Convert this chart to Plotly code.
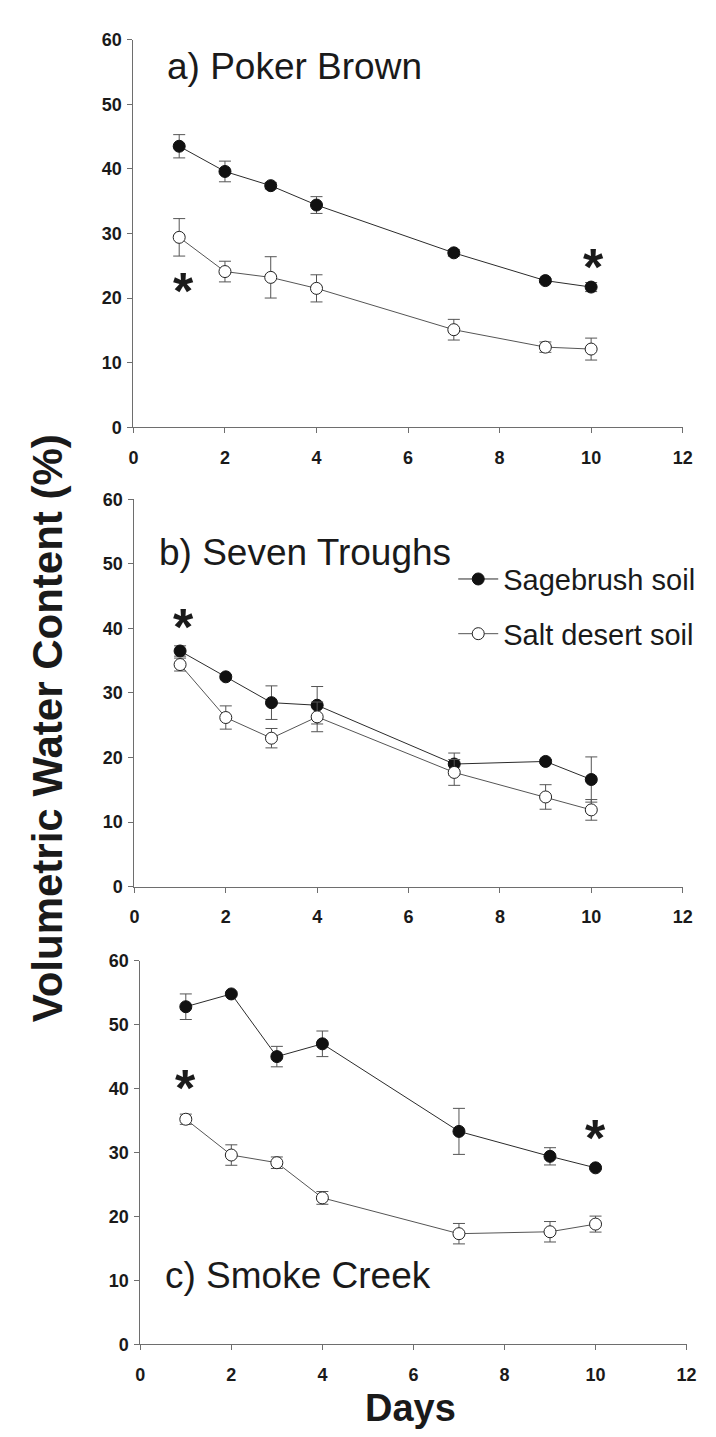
import plotly.graph_objects as go

days = [1, 2, 3, 4, 7, 9, 10]

a_sage = [43.5, 39.6, 37.4, 34.4, 27.0, 22.7, 21.7]
a_sage_err = [1.8, 1.6, 0.5, 1.3, 0.5, 0.3, 0.7]
a_salt = [29.4, 24.1, 23.2, 21.5, 15.1, 12.4, 12.1]
a_salt_err = [2.9, 1.6, 3.2, 2.1, 1.6, 0.8, 1.7]

b_sage = [36.5, 32.5, 28.5, 28.1, 19.0, 19.4, 16.6]
b_sage_err = [0.8, 0.3, 2.6, 2.9, 1.7, 0.3, 3.5]
b_salt = [34.4, 26.2, 23.0, 26.3, 17.7, 13.9, 11.9]
b_salt_err = [1.0, 1.8, 1.5, 2.3, 2.0, 1.9, 1.6]

c_sage = [52.8, 54.8, 45.0, 47.0, 33.3, 29.4, 27.6]
c_sage_err = [2.0, 0.3, 1.6, 2.0, 3.6, 1.35, 0.2]
c_salt = [35.2, 29.6, 28.4, 22.9, 17.3, 17.6, 18.8]
c_salt_err = [0.8, 1.6, 0.9, 1.0, 1.6, 1.6, 1.25]

panel_titles = ["a) Poker Brown", "b) Seven Troughs", "c) Smoke Creek"]
title_pos = [(0.68, 55.9), (0.49, 51.8), (0.50, 10.8)]
asterisks = [
    [(1.1, 22.6), (10.05, 26.4)],
    [(1.07, 41.8)],
    [(1.0, 41.6), (10.0, 33.9)],
]
series_names = ["Sagebrush soil", "Salt desert soil"]
x_ticks = [0, 2, 4, 6, 8, 10, 12]
y_ticks = [0, 10, 20, 30, 40, 50, 60]

W, H = 716, 1437
# pixel boxes (left, right, top, bottom)
boxes = [(123, 684, 22, 415), (124, 684, 488, 881), (130, 688, 956, 1345)]

TXT = "#1a1a1a"
AX = "#6e6e6e"
FONT = "Liberation Sans, Arial, sans-serif"

fig = go.Figure()
panels = [
    (a_sage, a_sage_err, a_salt, a_salt_err),
    (b_sage, b_sage_err, b_salt, b_salt_err),
    (c_sage, c_sage_err, c_salt, c_salt_err),
]

for i, (s, se, t, te) in enumerate(panels):
    xa = "x" if i == 0 else f"x{i+1}"
    ya = "y" if i == 0 else f"y{i+1}"
    fig.add_trace(go.Scatter(
        x=days, y=s, xaxis=xa, yaxis=ya, mode="lines+markers",
        name=series_names[0], legendgroup="g1", showlegend=(i == 0),
        line=dict(color="#2b2b2b", width=1),
        marker=dict(symbol="circle", size=12, color="#111111",
                    line=dict(color="#111111", width=1)),
        error_y=dict(type="data", array=se, visible=True,
                     color="#555555", thickness=1, width=6),
    ))
    fig.add_trace(go.Scatter(
        x=days, y=t, xaxis=xa, yaxis=ya, mode="lines+markers",
        name=series_names[1], legendgroup="g2", showlegend=(i == 0),
        line=dict(color="#555555", width=1),
        marker=dict(symbol="circle", size=12, color="white",
                    line=dict(color="#222222", width=1)),
        error_y=dict(type="data", array=te, visible=True,
                     color="#555555", thickness=1, width=6),
    ))

layout = dict(
    width=W, height=H, margin=dict(l=0, r=0, t=0, b=0),
    paper_bgcolor="white", plot_bgcolor="white",
    font=dict(family=FONT, color=TXT),
    showlegend=True,
    legend=dict(x=0.628, y=0.622, xanchor="left", yanchor="top",
                font=dict(size=29, color=TXT, family=FONT),
                bgcolor="rgba(0,0,0,0)", traceorder="grouped",
                tracegroupgap=14, itemwidth=40),
)

annotations = []
for i, (l, r, t, b) in enumerate(boxes):
    suf = "" if i == 0 else str(i + 1)
    layout[f"xaxis{suf}"] = dict(
        domain=[l / W, r / W], range=[0, 12], anchor=f"y{suf}",
        tickvals=x_ticks, ticks="outside", ticklen=5, tickcolor=AX,
        showline=True, linecolor=AX, linewidth=1, showgrid=False,
        zeroline=False, ticklabelstandoff=9,
        tickfont=dict(size=18, weight="bold", color=TXT, family=FONT),
    )
    layout[f"yaxis{suf}"] = dict(
        domain=[1 - b / H, 1 - t / H], range=[0, 60], anchor=f"x{suf}",
        tickvals=y_ticks, ticks="outside", ticklen=5, tickcolor=AX,
        showline=True, linecolor=AX, linewidth=1, showgrid=False,
        zeroline=False, ticklabelstandoff=2,
        tickfont=dict(size=18, weight="bold", color=TXT, family=FONT),
    )
    tx, ty = title_pos[i]
    annotations.append(dict(
        text=panel_titles[i], x=tx, y=ty, xref=f"x{suf}", yref=f"y{suf}",
        xanchor="left", yanchor="middle", showarrow=False,
        font=dict(size=37, color=TXT, family=FONT),
    ))
    for (ax_, ay_) in asterisks[i]:
        annotations.append(dict(
            text="*", x=ax_, y=ay_, xref=f"x{suf}", yref=f"y{suf}",
            xanchor="center", yanchor="middle", yshift=-10, showarrow=False,
            font=dict(size=52, color=TXT, family=FONT, weight="bold"),
        ))

annotations.append(dict(
    text="Volumetric Water Content (%)", x=36 / W, y=1 - 720 / H,
    xref="paper", yref="paper", textangle=-90, showarrow=False,
    xanchor="center", yanchor="middle",
    font=dict(size=42, color=TXT, family=FONT, weight="bold"),
))
annotations.append(dict(
    text="Days", x=406 / W, y=1 - 1410 / H,
    xref="paper", yref="paper", showarrow=False,
    xanchor="center", yanchor="middle",
    font=dict(size=38, color=TXT, family=FONT, weight="bold"),
))
layout["annotations"] = annotations

fig.update_layout(**layout)
fig.write_html("out.html")
